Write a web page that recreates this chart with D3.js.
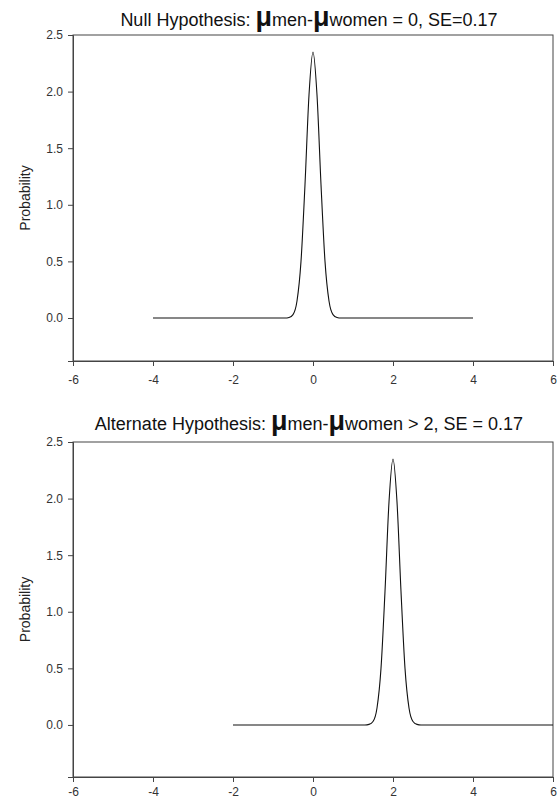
<!DOCTYPE html>
<html>
<head>
<meta charset="utf-8">
<script src="https://cdn.jsdelivr.net/npm/d3@7"></script>
<style>
  body { margin: 0; background: #fff; }
  svg { font-family: "Liberation Sans", Arial, sans-serif; }
  .tick text { fill: #333; font-size: 12px; }
  .domain, .tick line { stroke: #444; }
</style>
</head>
<body>
<svg width="560" height="802"></svg>
<script>
// values
const xTicks = [-6, -4, -2, 0, 2, 4, 6];
const yTicks = [0, 0.5, 1.0, 1.5, 2.0, 2.5];

const nullX = [-4, -0.7, -0.6, -0.5, -0.4, -0.3, -0.2, -0.1, 0, 0.1, 0.2, 0.3, 0.4, 0.5, 0.6, 0.7, 4];
const nullY = [0, 0, 0.005, 0.03, 0.15, 0.5, 1.18, 1.97, 2.35, 1.97, 1.18, 0.5, 0.15, 0.03, 0.005, 0, 0];

const altX = [-2, 1.3, 1.4, 1.5, 1.6, 1.7, 1.8, 1.9, 2, 2.1, 2.2, 2.3, 2.4, 2.5, 2.6, 2.7, 6];
const altY = [0, 0, 0.005, 0.03, 0.15, 0.5, 1.18, 1.97, 2.35, 1.97, 1.18, 0.5, 0.15, 0.03, 0.005, 0, 0];

const svg = d3.select('svg');

const panels = [
  { pre: "Null Hypothesis: ", mid: " = 0, SE=0.17", x: nullX, y: nullY,
    top: 35, bottom: 361, ymin: -0.38, titleY: 26, pad: 9 },
  { pre: "Alternate Hypothesis: ", mid: " > 2, SE = 0.17", x: altX, y: altY,
    top: 442, bottom: 777, ymin: -0.46, titleY: 430, pad: 5 }
];

const left = 73, right = 553;

panels.forEach(p => {
  const x = d3.scaleLinear().domain([-6, 6]).range([left, right]);
  const y = d3.scaleLinear().domain([p.ymin, 2.5]).range([p.bottom, p.top]);

  const g = svg.append('g');

  // frame
  g.append('rect')
    .attr('x', left).attr('y', p.top)
    .attr('width', right - left).attr('height', p.bottom - p.top)
    .attr('fill', 'none').attr('stroke', '#444').attr('stroke-width', 1);

  g.append('g')
    .attr('transform', `translate(0, ${p.bottom})`)
    .call(d3.axisBottom(x).tickValues(xTicks).tickSize(5).tickPadding(p.pad).tickFormat(d => String(d)));

  g.append('g')
    .attr('transform', `translate(${left}, 0)`)
    .call(d3.axisLeft(y).tickValues(yTicks).tickSize(5).tickPadding(5).tickFormat(d3.format('.1f')));

  g.selectAll('.domain').attr('stroke', '#444');

  // curve
  const pts = p.x.map((v, i) => [v, p.y[i]]);
  g.append('path')
    .datum(pts)
    .attr('fill', 'none')
    .attr('stroke', '#111')
    .attr('stroke-width', 1.1)
    .attr('d', d3.line().x(d => x(d[0])).y(d => y(d[1])).curve(d3.curveMonotoneX));

  // y label
  g.append('text')
    .attr('transform', `translate(30, ${(p.top + p.bottom) / 2}) rotate(-90)`)
    .attr('text-anchor', 'middle')
    .attr('fill', '#222')
    .style('font-size', '14px')
    .text('Probability');

  // title
  const t = g.append('text')
    .attr('x', (left + right) / 2 - 4)
    .attr('y', p.titleY)
    .attr('text-anchor', 'middle')
    .attr('fill', '#111')
    .style('font-size', '18px');
  t.append('tspan').text(p.pre);
  t.append('tspan').style('font-size', '27px').style('font-weight', 'bold').text('μ');
  t.append('tspan').text('men-');
  t.append('tspan').style('font-size', '27px').style('font-weight', 'bold').text('μ');
  t.append('tspan').text('women' + p.mid);
});
</script>
</body>
</html>
